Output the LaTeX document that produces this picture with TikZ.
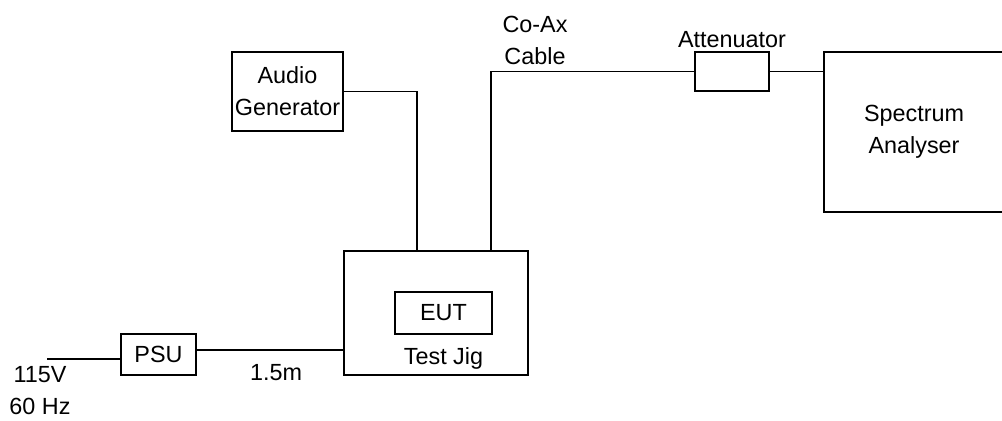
\documentclass[tikz,border=0pt]{standalone}
\usepackage{fontspec}
\setmainfont{Liberation Sans}
\usetikzlibrary{positioning,calc}
\newcommand{\labelfont}{\fontsize{13.3}{18.2}\selectfont}
\tikzset{
  unit/.style={draw, line width=1pt, inner sep=0pt, align=center, font=\labelfont},
  lbl/.style={inner sep=0pt, align=center, font=\labelfont},
  wire/.style={line width=1pt}
}

\begin{document}
\begin{tikzpicture}[]
\useasboundingbox (0,0) rectangle (20.04,8.4);
\node[unit, minimum width=3.6cm, minimum height=3.2cm] (sa) at (18.28,5.76) {Spectrum\\Analyser};
\node[unit, minimum width=1.48cm, minimum height=0.78cm, label={[lbl, label distance=0.07cm]above:Attenuator}] (att) at (14.64,6.97) {};
\node[unit, minimum width=2.22cm, minimum height=1.58cm] (gen) at (5.75,6.57) {Audio\\Generator};
\node[unit, minimum width=3.68cm, minimum height=2.48cm] (jig) at (8.72,2.14) {};
\node[unit, minimum width=1.94cm, minimum height=0.84cm] (eut) at (8.87,2.14) {EUT};
\node[lbl, below=0.25cm of eut] (jiglbl) {Test Jig};
\node[unit, minimum width=1.5cm, minimum height=0.82cm] (psu) at (3.17,1.31) {PSU};
\node[lbl] (mains) at (0.8,0.58) {115V\\60 Hz};
\node[lbl] (len) at (5.52,0.94) {1.5m};
\node[lbl] (coax) at (10.7,7.6) {Co-Ax\\Cable};
\coordinate (plug) at (0.94,1.22);
\draw[wire] (plug) -- (plug -| psu.west);
\draw[wire] ([yshift=0.09cm]psu.east) -- ([yshift=0.09cm]psu.east -| jig.west);
\draw[wire] (gen.east) -| ($(jig.north west)+(1.48,0)$);
\draw[wire] ($(jig.north west)+(2.96,0)$) |- (att.west);
\draw[wire] (att.east) -- (att.east -| sa.west);
\end{tikzpicture}
\end{document}
